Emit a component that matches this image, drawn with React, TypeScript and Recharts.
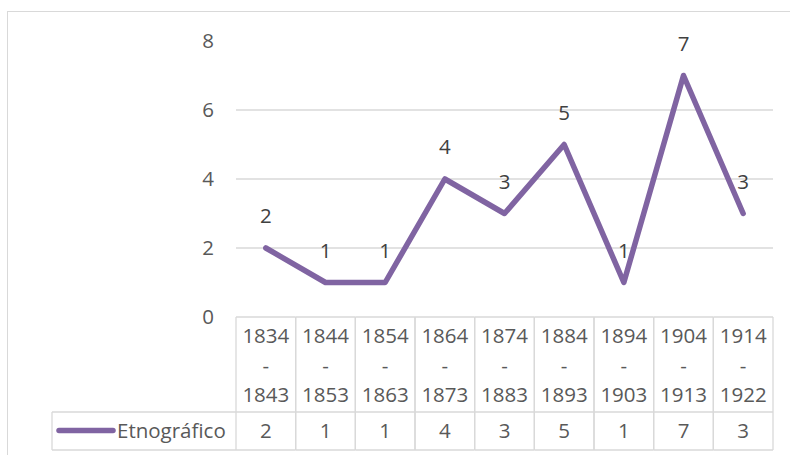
import React from 'react';
import { LineChart, Line, XAxis, YAxis, ReferenceLine } from 'recharts';

const categories = [
  '1834-1843', '1844-1853', '1854-1863', '1864-1873', '1874-1883',
  '1884-1893', '1894-1903', '1904-1913', '1914-1922',
];
const etnografico = [2, 1, 1, 4, 3, 5, 1, 7, 3];
const seriesName = 'Etnográfico';
const yTicks = [0, 2, 4, 6, 8];
const gridValues = [2, 4, 6];

const data = categories.map((c, i) => ({ periodo: c, etnografico: etnografico[i] }));

const W = 790;
const H = 455;
const MARGIN = { top: 41, right: 17, bottom: 0, left: 0 };
const Y_AXIS_W = 236;
const X_AXIS_H = 138;
const PLOT_LEFT = MARGIN.left + Y_AXIS_W;
const PLOT_W = W - PLOT_LEFT - MARGIN.right;
const CELL = PLOT_W / categories.length;
const PLOT_BOTTOM = H - MARGIN.bottom - X_AXIS_H;
const LEGEND_W = 184;
const FONT = '"Open Sans", "Noto Sans", sans-serif';
const FS = 20.5;
const TEXT = '#595959';
const GRID = '#d9d9d9';
const PURPLE = '#8064A2';

const TableTick = (props: any) => {
  const { x, payload } = props;
  const index = props.index ?? payload.index ?? 0;
  const left = x - CELL / 2;
  const right = x + CELL / 2;
  const top = PLOT_BOTTOM;
  const mid = top + 95;
  const bot = top + 133;
  const parts = String(payload.value).split('-');
  const lines = [parts[0], '-', parts[1]];
  const textStyle = { fontFamily: FONT, fontSize: FS, fill: TEXT };
  return (
    <g>
      <line x1={left} x2={right} y1={top} y2={top} stroke={GRID} strokeWidth={1.3} />
      <line x1={left} x2={right} y1={mid} y2={mid} stroke={GRID} strokeWidth={1.3} />
      <line x1={left} x2={right} y1={bot} y2={bot} stroke={GRID} strokeWidth={1.3} />
      <line x1={left} x2={left} y1={top} y2={bot} stroke={GRID} strokeWidth={1.3} />
      <line x1={right} x2={right} y1={top} y2={bot} stroke={GRID} strokeWidth={1.3} />
      {lines.map((t, i) => (
        <text key={i} x={x} y={top + 26 + i * 29.5} textAnchor="middle" style={textStyle}>
          {t}
        </text>
      ))}
      <text x={x} y={top + 121} textAnchor="middle" style={textStyle}>
        {etnografico[index]}
      </text>
      {index === 0 && (
        <g>
          <line x1={left - LEGEND_W} x2={left} y1={mid} y2={mid} stroke={GRID} strokeWidth={1.3} />
          <line x1={left - LEGEND_W} x2={left} y1={bot} y2={bot} stroke={GRID} strokeWidth={1.3} />
          <line x1={left - LEGEND_W} x2={left - LEGEND_W} y1={mid} y2={bot} stroke={GRID} strokeWidth={1.3} />
          <line
            x1={left - LEGEND_W + 7}
            x2={left - LEGEND_W + 61}
            y1={top + 113.5}
            y2={top + 113.5}
            stroke={PURPLE}
            strokeWidth={5.5}
            strokeLinecap="round"
          />
          <text x={left - LEGEND_W + 65} y={top + 121} textAnchor="start" style={textStyle}>
            {seriesName}
          </text>
        </g>
      )}
    </g>
  );
};

const ValueLabel = (props: any) => {
  const { x, y, value } = props;
  return (
    <text
      x={x}
      y={y - 25}
      textAnchor="middle"
      style={{ fontFamily: FONT, fontSize: FS, fill: '#404040' }}
    >
      {value}
    </text>
  );
};

export default function App() {
  return (
    <div style={{ position: 'absolute', left: 0, top: 0, width: W, height: H, background: '#fff' }}>
      <div
        style={{
          position: 'absolute',
          left: 7,
          top: 11,
          width: W - 7,
          height: H - 11,
          borderLeft: `1.5px solid ${GRID}`,
          borderTop: `1.5px solid ${GRID}`,
          boxSizing: 'border-box',
        }}
      />
      <div style={{ position: 'absolute', left: 0, top: 0 }}>
        <LineChart width={W} height={H} data={data} margin={MARGIN}>
          <XAxis
            dataKey="periodo"
            height={X_AXIS_H}
            padding={{ left: CELL / 2, right: CELL / 2 }}
            axisLine={false}
            tickLine={false}
            interval={0}
            tick={<TableTick />}
          />
          <YAxis
            width={Y_AXIS_W}
            domain={[0, 8]}
            ticks={yTicks}
            axisLine={false}
            tickLine={false}
            tickSize={0}
            tickMargin={22}
            tick={{ fill: TEXT, fontSize: FS, fontFamily: FONT }}
          />
          {gridValues.map((v) => (
            <ReferenceLine key={v} y={v} stroke={GRID} strokeWidth={1.3} />
          ))}
          <Line
            type="linear"
            dataKey="etnografico"
            name={seriesName}
            stroke={PURPLE}
            strokeWidth={5.5}
            strokeLinecap="round"
            strokeLinejoin="round"
            dot={false}
            activeDot={false}
            isAnimationActive={false}
            label={<ValueLabel />}
          />
        </LineChart>
      </div>
    </div>
  );
}
